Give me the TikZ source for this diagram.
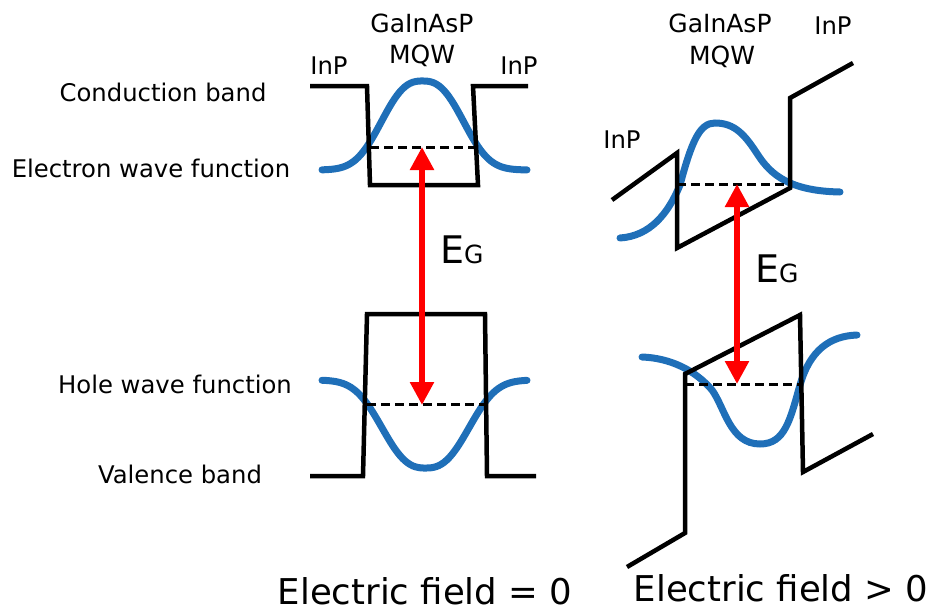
\documentclass[tikz,border=0pt]{standalone}
\usepackage{fontspec}
\setmainfont{DejaVu Sans}
\usetikzlibrary{arrows.meta}
\definecolor{wblue}{HTML}{1F6FB8}
\definecolor{ared}{HTML}{FF0000}
\tikzset{
  band/.style={line width=4.5pt, line join=miter, black},
  wave/.style={line width=7pt, wblue, line cap=round},
  level/.style={line width=3pt, dash pattern=on 9pt off 5pt, black},
  gap/.style={line width=5.5pt, ared, {Triangle[length=23pt,width=23pt]}-{Triangle[length=23pt,width=23pt]}},
  lbl/.style={font=\fontsize{24.3}{26}\selectfont, inner sep=0pt},
  ttl/.style={font=\fontsize{25}{27}\selectfont, inner sep=0pt},
  big/.style={font=\fontsize{35.5}{40}\selectfont, inner sep=0pt, anchor=base},
}
\begin{document}
\begin{tikzpicture}[x=1pt,y=-1pt]
\useasboundingbox (0,0) rectangle (937,613);
% ---------- left: field = 0 ----------
\draw[wave] plot[domain=322:527, samples=80] (\x, {170 - 89*exp(-(abs(\x-422.5)/49.7)^2.6)});
\draw[wave] plot[domain=322:527, samples=80] (\x, {380 + 88*exp(-(abs(\x-425.5)/52.6)^2.6)});
\draw[band] (310,86) -- (367,86) -- (370,185) -- (478,185) -- (473,86) -- (528,86);
\draw[band] (310,476) -- (363,476) -- (367,314) -- (485,314) -- (487,476) -- (536,476);
\draw[level] (370,147) -- (475,147);
\draw[level] (367,404) -- (485,404);
\coordinate (eL) at (422,147);
\coordinate (hL) at (422,405);
\draw[gap] (eL) -- (hL);
\node[anchor=base west, inner sep=0pt] (egL) at (440,263) {\fontsize{38}{40}\selectfont E\fontsize{25}{26}\selectfont G};
\node[lbl] (cb) at (163,92) {Conduction band};
\node[lbl] (ewf) at (151,168) {Electron wave function};
\node[lbl] (hwf) at (175,384) {Hole wave function};
\node[lbl] (vb) at (180,474) {Valence band};
\node[ttl] (gL) at (422,23) {GaInAsP};
\node[ttl] (mL) at (422,56) {MQW};
\node[lbl] (inpL1) at (329,66) {InP};
\node[lbl] (inpL2) at (519,66) {InP};
\node[big] (fL) at (425,604) {Electric field = 0};
% ---------- right: field > 0 ----------
\draw[wave] (620,238) .. controls (650,236) and (668,214) .. (680,185)
  .. controls (692,140) and (700,123) .. (715,123)
  .. controls (735,123) and (745,135) .. (758,155)
  .. controls (771,175) and (790,191) .. (840,192);
\draw[wave] (642,357) .. controls (670,358) and (695,370) .. (712,390)
  .. controls (725,408) and (730,444) .. (760,444)
  .. controls (785,444) and (790,420) .. (800,385)
  .. controls (810,350) and (830,336) .. (857,335);
\draw[band] (612,200) -- (677,153) -- (677,248) -- (790,188) -- (790,98) -- (853,63);
\draw[band] (627,567) -- (685,533) -- (685,374) -- (800,315) -- (803,472) -- (873,434);
\draw[level] (677,184) -- (790,184);
\draw[level] (685,384) -- (800,384);
\coordinate (eR) at (737,184);
\coordinate (hR) at (737,384);
\draw[gap] (eR) -- (hR);
\node[anchor=base west, inner sep=0pt] (egR) at (755,282) {\fontsize{38}{40}\selectfont E\fontsize{25}{26}\selectfont G};
\node[ttl] (gR) at (720,23) {GaInAsP};
\node[ttl] (mR) at (722,57) {MQW};
\node[lbl] (inpR1) at (833,26) {InP};
\node[lbl] (inpR2) at (622,140) {InP};
\node[big] (fR) at (781,601) {Electric field > 0};
\end{tikzpicture}
\end{document}
